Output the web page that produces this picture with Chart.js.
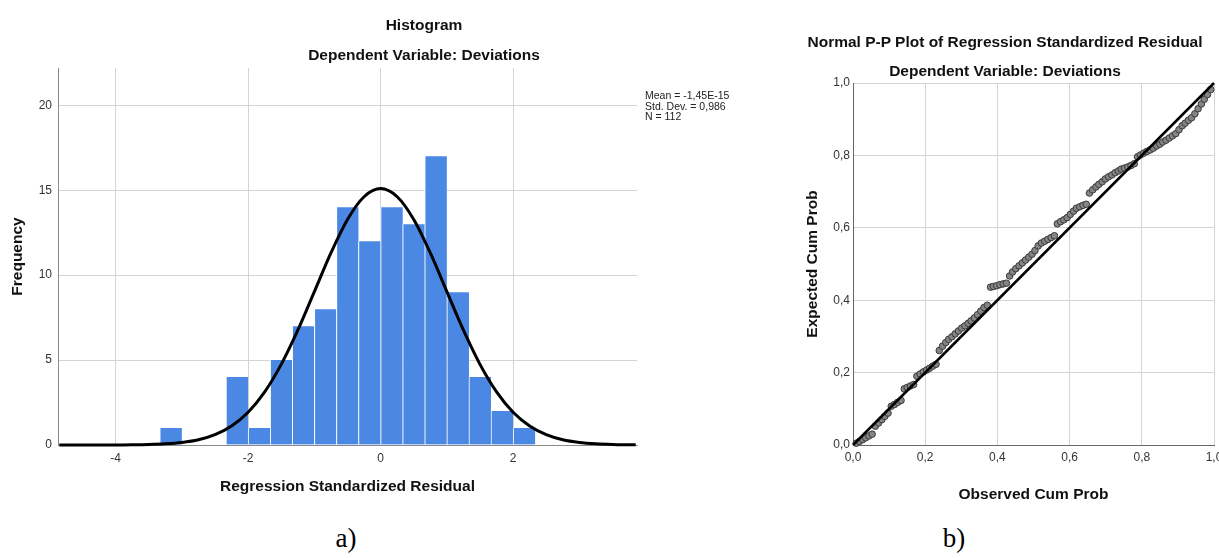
<!DOCTYPE html>
<html>
<head>
<meta charset="utf-8">
<title>Histogram and Normal P-P Plot – Deviations</title>
<script src="https://cdn.jsdelivr.net/npm/chart.js@4.4.1/dist/chart.umd.min.js"></script>
<style>
  html, body { margin: 0; padding: 0; background: #fff; }
  #page { position: relative; width: 1219px; height: 558px; overflow: hidden; background: #fff;
          font-family: "Liberation Sans", Arial, sans-serif; color: #111; }
  canvas { position: absolute; top: 0; }
  #histCanvas { left: 0; }
  #ppCanvas { left: 790px; }
  .txt { position: absolute; white-space: nowrap; transform: translate(-50%, -50%); }
  .ttl { font-weight: bold; font-size: 15.5px; }
  .stats { position: absolute; left: 645px; top: 90px; font-size: 10.5px; line-height: 10.6px; color: #222; }
  .cap { font-family: "Liberation Serif", "Times New Roman", serif; font-size: 27px; color: #000; }
</style>
</head>
<body>
<div id="page">
  <canvas id="histCanvas" width="760" height="510"></canvas>
  <canvas id="ppCanvas" width="429" height="510"></canvas>

  <div class="txt ttl" style="left:424px; top:25px;">Histogram</div>
  <div class="txt ttl" style="left:424px; top:55px;">Dependent Variable: Deviations</div>
  <div class="stats">Mean = -1,45E-15<br>Std. Dev. = 0,986<br>N = 112</div>

  <div class="txt ttl" style="left:1005px; top:42px;">Normal P-P Plot of Regression Standardized Residual</div>
  <div class="txt ttl" style="left:1005px; top:71px;">Dependent Variable: Deviations</div>

  <div class="txt cap" style="left:346px; top:538px;">a)</div>
  <div class="txt cap" style="left:954px; top:538px;">b)</div>
</div>

<script>
// ---- Histogram of regression standardized residuals ----
const binCenters = [-3.167, -2.833, -2.5, -2.167, -1.833, -1.5, -1.167, -0.833, -0.5, -0.167,
                    0.167, 0.5, 0.833, 1.167, 1.5, 1.833, 2.167];
const binCounts  = [1, 0, 0, 4, 1, 5, 7, 8, 14, 12, 14, 13, 17, 9, 4, 2, 1];

// Fitted normal curve (mean ≈ 0, SD 0,986, N 112), heights in frequency units
const curveX = [-4.85, -4.5, -4.25, -4, -3.75, -3.5, -3.25, -3, -2.75, -2.5, -2.25, -2, -1.75, -1.5,
                -1.25, -1, -0.75, -0.5, -0.25, 0, 0.25, 0.5, 0.75, 1, 1.25, 1.5, 1.75, 2, 2.25,
                2.5, 2.75, 3, 3.25, 3.5, 3.75, 3.85];
const curveY = [0, 0, 0, 0, 0.01, 0.03, 0.07, 0.15, 0.31, 0.61, 1.12, 1.93, 3.13, 4.75,
                6.76, 9.03, 11.31, 13.28, 14.62, 15.10, 14.62, 13.28, 11.31, 9.03, 6.76, 4.75, 3.13, 1.93, 1.12,
                0.61, 0.31, 0.15, 0.07, 0.03, 0.01, 0.01];

const histXTicks = [-4, -2, 0, 2];
const histYTicks = [0, 5, 10, 15, 20];

// ---- Normal P-P plot ----
const observedCum = [0.009, 0.018, 0.027, 0.035, 0.044, 0.053, 0.062, 0.071, 0.080, 0.088,
  0.097, 0.106, 0.115, 0.124, 0.133, 0.142, 0.150, 0.159, 0.168, 0.177,
  0.186, 0.195, 0.204, 0.212, 0.221, 0.230, 0.239, 0.248, 0.257, 0.265,
  0.274, 0.283, 0.292, 0.301, 0.310, 0.319, 0.327, 0.336, 0.345, 0.354,
  0.363, 0.372, 0.381, 0.389, 0.398, 0.407, 0.416, 0.425, 0.434, 0.442,
  0.451, 0.460, 0.469, 0.478, 0.487, 0.496, 0.504, 0.513, 0.522, 0.531,
  0.540, 0.549, 0.558, 0.566, 0.575, 0.584, 0.593, 0.602, 0.611, 0.619,
  0.628, 0.637, 0.646, 0.655, 0.664, 0.673, 0.681, 0.690, 0.699, 0.708,
  0.717, 0.726, 0.735, 0.743, 0.752, 0.761, 0.770, 0.779, 0.788, 0.796,
  0.805, 0.814, 0.823, 0.832, 0.841, 0.850, 0.858, 0.867, 0.876, 0.885,
  0.894, 0.903, 0.912, 0.920, 0.929, 0.938, 0.947, 0.956, 0.965, 0.973,
  0.982, 0.991];
const expectedCum = [0.005, 0.010, 0.015, 0.020, 0.025, 0.030, 0.052, 0.061, 0.070, 0.079,
  0.088, 0.107, 0.112, 0.118, 0.123, 0.155, 0.159, 0.163, 0.167, 0.190,
  0.196, 0.202, 0.207, 0.212, 0.218, 0.223, 0.261, 0.273, 0.283, 0.292,
  0.299, 0.307, 0.315, 0.323, 0.329, 0.336, 0.343, 0.351, 0.360, 0.370,
  0.380, 0.386, 0.436, 0.438, 0.440, 0.443, 0.445, 0.447, 0.467, 0.478,
  0.487, 0.495, 0.503, 0.511, 0.519, 0.527, 0.537, 0.550, 0.558, 0.563,
  0.568, 0.573, 0.578, 0.611, 0.617, 0.622, 0.628, 0.637, 0.646, 0.654,
  0.658, 0.662, 0.665, 0.696, 0.705, 0.713, 0.720, 0.727, 0.735, 0.741,
  0.746, 0.752, 0.757, 0.762, 0.765, 0.768, 0.772, 0.777, 0.796, 0.801,
  0.806, 0.811, 0.815, 0.820, 0.826, 0.831, 0.837, 0.842, 0.848, 0.854,
  0.860, 0.871, 0.882, 0.889, 0.897, 0.904, 0.915, 0.929, 0.942, 0.955,
  0.968, 0.982];
const refLine = [0, 1];
const ppTicks = [0, 0.2, 0.4, 0.6, 0.8, 1.0];

// ---- shared styling ----
const FONT = '"Liberation Sans", Arial, sans-serif';
const tickFont = { family: FONT, size: 12 };
const axisTitleFont = { family: FONT, size: 15.5, weight: 'bold' };
const gridColor = '#d4d4d4';

function fixWidth(w) {
  return s => { s.width = w; s.paddingTop = 0; s.paddingBottom = 0; };
}
function fixHeight(h) {
  return s => { s.height = h; s.paddingLeft = 0; s.paddingRight = 0; };
}
function setTicks(values) {
  return s => { s.ticks = values.map(v => ({ value: v })); };
}

// Histogram chart
new Chart(document.getElementById('histCanvas'), {
  data: {
    datasets: [
      {
        type: 'line',
        data: curveX.map((x, i) => ({ x: x, y: curveY[i] })),
        borderColor: '#000',
        borderWidth: 3,
        pointRadius: 0,
        cubicInterpolationMode: 'monotone',
        fill: false,
        clip: false,
        order: 0
      },
      {
        type: 'bar',
        data: binCenters.map((x, i) => ({ x: x, y: binCounts[i] })),
        backgroundColor: '#4a88e4',
        borderColor: '#ffffff',
        borderWidth: { left: 1, right: 0, top: 0, bottom: 0 },
        borderSkipped: false,
        barPercentage: 1,
        categoryPercentage: 1,
        order: 1
      }
    ]
  },
  options: {
    responsive: false,
    animation: false,
    events: [],
    layout: { padding: { left: 0, right: 123, top: 68, bottom: 0 } },
    plugins: { legend: { display: false }, tooltip: { enabled: false }, title: { display: false } },
    scales: {
      x: {
        type: 'linear',
        min: -4.87,
        max: 3.87,
        offset: false,
        afterFit: fixHeight(65),
        afterBuildTicks: setTicks(histXTicks),
        grid: { color: gridColor, drawTicks: false, offset: false },
        border: { display: true, color: '#8a8a8a' },
        ticks: { font: tickFont, color: '#333', padding: 6, maxRotation: 0 },
        title: { display: true, text: 'Regression Standardized Residual', font: axisTitleFont,
                 color: '#111', padding: { top: 0, bottom: 13.7 } }
      },
      y: {
        type: 'linear',
        min: 0,
        max: 22.2,
        afterFit: fixWidth(58),
        afterBuildTicks: setTicks(histYTicks),
        grid: { color: gridColor, drawTicks: false },
        border: { display: true, color: '#8a8a8a' },
        ticks: { font: tickFont, color: '#333', padding: 6 },
        title: { display: true, text: 'Frequency', font: axisTitleFont, color: '#111',
                 padding: { top: 8.7, bottom: 0 } }
      }
    }
  }
});

// Normal P-P plot chart
const commaFmt = v => v.toFixed(1).replace('.', ',');
new Chart(document.getElementById('ppCanvas'), {
  data: {
    datasets: [
      {
        type: 'line',
        data: refLine.map(v => ({ x: v, y: v })),
        borderColor: '#000',
        borderWidth: 2.5,
        pointRadius: 0,
        fill: false,
        clip: false,
        order: 0
      },
      {
        type: 'scatter',
        data: observedCum.map((x, i) => ({ x: x, y: expectedCum[i] })),
        backgroundColor: '#858585',
        borderColor: '#3a3a3a',
        borderWidth: 1,
        pointRadius: 3.3,
        clip: false,
        order: 1
      }
    ]
  },
  options: {
    responsive: false,
    animation: false,
    events: [],
    layout: { padding: { left: 0, right: 5, top: 83, bottom: 0 } },
    plugins: { legend: { display: false }, tooltip: { enabled: false }, title: { display: false } },
    scales: {
      x: {
        type: 'linear',
        min: 0,
        max: 1,
        afterFit: fixHeight(65),
        afterBuildTicks: setTicks(ppTicks),
        grid: { color: gridColor, drawTicks: false },
        border: { display: true, color: '#666' },
        ticks: { font: tickFont, color: '#333', padding: 5, maxRotation: 0, callback: commaFmt },
        title: { display: true, text: 'Observed Cum Prob', font: axisTitleFont, color: '#111',
                 padding: { top: 0, bottom: 5.7 } }
      },
      y: {
        type: 'linear',
        min: 0,
        max: 1,
        afterFit: fixWidth(63),
        afterBuildTicks: setTicks(ppTicks),
        grid: { color: gridColor, drawTicks: false },
        border: { display: true, color: '#666' },
        ticks: { font: tickFont, color: '#333', padding: 3, callback: commaFmt },
        title: { display: true, text: 'Expected Cum Prob', font: axisTitleFont, color: '#111',
                 padding: { top: 13.7, bottom: 0 } }
      }
    }
  }
});
</script>
</body>
</html>
